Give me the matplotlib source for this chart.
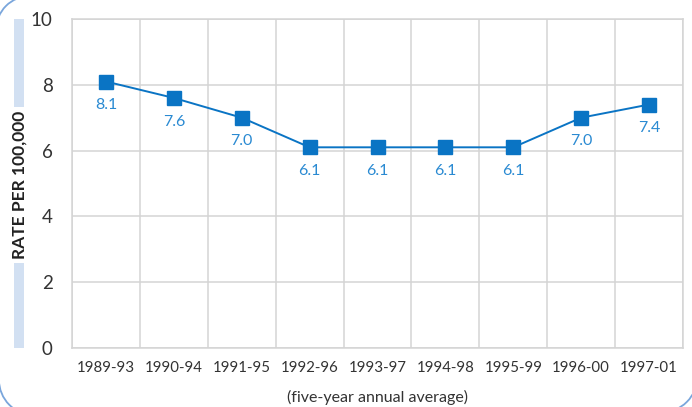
"""Five-year annual average rate per 100,000, line chart with square markers."""

import matplotlib

matplotlib.use("Agg")
import matplotlib.pyplot as plt
from matplotlib.patches import Arc, Rectangle

periods = ["1989-93", "1990-94", "1991-95", "1992-96", "1993-97",
           "1994-98", "1995-99", "1996-00", "1997-01"]
rates = [8.1, 7.6, 7.0, 6.1, 6.1, 6.1, 6.1, 7.0, 7.4]
y_ticks = [0, 2, 4, 6, 8, 10]

LINE_BLUE = "#0a74c4"
LABEL_BLUE = "#2a8ad2"
GRID = "#d4d4d4"
BAND = "#d2e0f2"
BORDER = "#7aa6dc"

plt.rcParams["font.family"] = ["Lato", "DejaVu Sans"]

W, H = 692, 407
fig = plt.figure(figsize=(W / 100, H / 100), dpi=100)

ax = fig.add_axes([72 / W, 1 - 348 / H, (683 - 72) / W, (348 - 19) / H])
x = list(range(len(periods)))
ax.plot(x, rates, color=LINE_BLUE, linewidth=1.4, marker="s",
        markersize=10.5, markerfacecolor=LINE_BLUE, markeredgecolor=LINE_BLUE,
        zorder=3)
for xi, v in zip(x, rates):
    ax.annotate(f"{v:.1f}", (xi, v), xytext=(0, -12), textcoords="offset points",
                ha="center", va="top", fontsize=11.5, color=LABEL_BLUE)

ax.set_xlim(-0.5, len(periods) - 0.5)
ax.set_ylim(0, 10)
ax.set_yticks(y_ticks)
ax.set_xticks(x)
ax.set_xticklabels(periods, fontsize=10.8, color="#333333")
ax.set_xticks([i - 0.5 for i in range(len(periods) + 1)], minor=True)
ax.tick_params(axis="both", which="both", length=0)
ax.tick_params(axis="y", labelsize=13.5, labelcolor="#333333", pad=14)
ax.tick_params(axis="x", pad=9)
ax.grid(axis="y", which="major", color=GRID, linewidth=1.1)
ax.grid(axis="x", which="minor", color=GRID, linewidth=1.1)
for s in ax.spines.values():
    s.set_color(GRID)
    s.set_linewidth(1.1)
ax.set_axisbelow(True)
ax.set_xlabel("(five-year annual average)", fontsize=11.5, color="#333333",
              labelpad=11)

# y-axis label sitting on a light blue band
fig.add_artist(Rectangle((14 / W, 1 - 348 / H), 10 / W, (348 - 19) / H,
                         transform=fig.transFigure, facecolor=BAND,
                         edgecolor="none", zorder=0))
fig.text(19.5 / W, 1 - 185 / H, "RATE PER 100,000", rotation=90, ha="center",
         va="center", fontsize=12.5, fontweight="bold", color="#222222",
         bbox=dict(facecolor="white", edgecolor="none", pad=3), zorder=2)

# rounded panel corners peeking in at the edges
over = fig.add_axes([0, 0, 1, 1], zorder=-1)
over.set_xlim(0, W)
over.set_ylim(0, H)
over.axis("off")
over.add_patch(Arc((30, H - 30), 68, 68, theta1=90, theta2=180,
                   color=BORDER, linewidth=1.3))
over.add_patch(Arc((34, 27), 70, 70, theta1=180, theta2=270,
                   color=BORDER, linewidth=1.3))
over.add_patch(Arc((660, 32), 76, 76, theta1=270, theta2=360,
                   color=BORDER, linewidth=1.3))

fig.savefig("out.png", dpi=100)
